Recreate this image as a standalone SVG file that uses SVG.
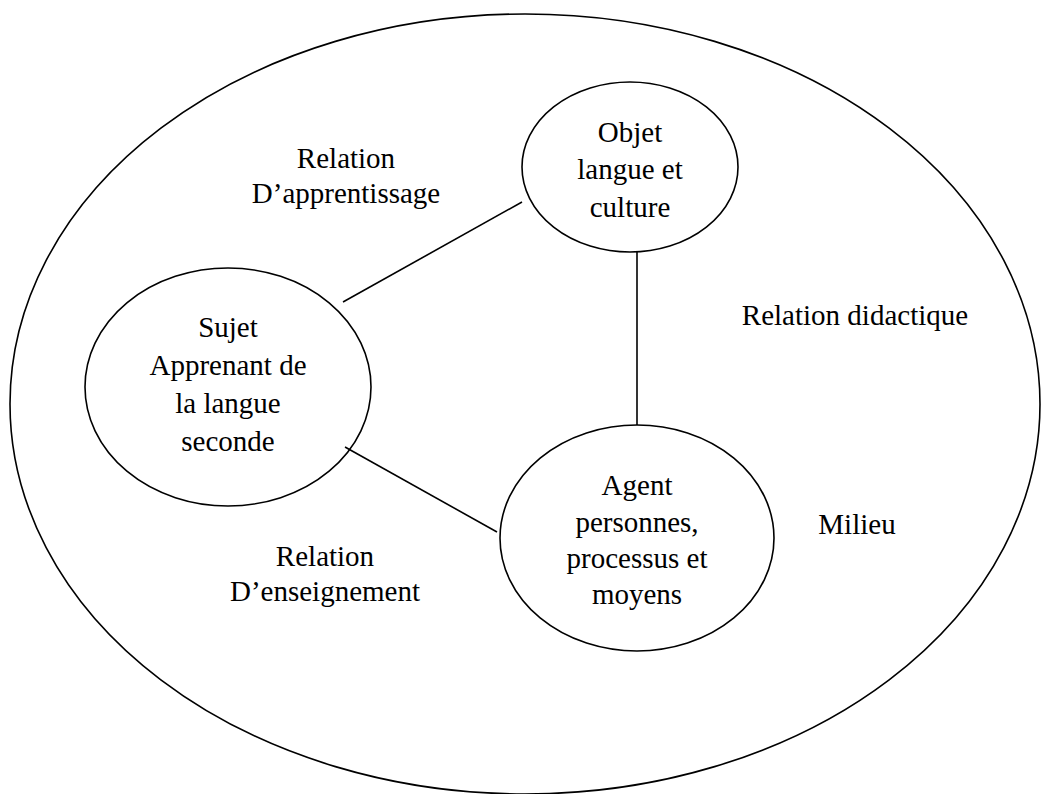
<svg xmlns="http://www.w3.org/2000/svg" width="1041" height="794" viewBox="0 0 1041 794">
<style>
.shape{fill:none;stroke:#000;stroke-width:1.6}
.conn{stroke:#000;stroke-width:1.6}
text{font-family:"Liberation Serif","Times New Roman",serif;font-size:29px;fill:#000;text-anchor:middle}
</style>
<rect width="1041" height="794" fill="#fff"/>
<g id="milieu">
<ellipse class="shape" cx="525" cy="404" rx="515" ry="390"/>
<text x="857" y="534">Milieu</text>
</g>
<g id="connectors">
<line class="conn" x1="343" y1="302" x2="522" y2="202"/>
<line class="conn" x1="637" y1="252" x2="637" y2="425"/>
<line class="conn" x1="345" y1="447" x2="497" y2="532"/>
</g>
<g id="objet">
<ellipse class="shape" cx="630" cy="167" rx="108" ry="85"/>
<text x="630" y="142">Objet</text>
<text x="630" y="179">langue et</text>
<text x="630" y="217">culture</text>
</g>
<g id="sujet">
<ellipse class="shape" cx="228" cy="387" rx="143" ry="119"/>
<text x="228" y="337">Sujet</text>
<text x="228" y="375">Apprenant de</text>
<text x="228" y="413">la langue</text>
<text x="228" y="451">seconde</text>
</g>
<g id="agent">
<ellipse class="shape" cx="637" cy="538" rx="137" ry="113"/>
<text x="637" y="495">Agent</text>
<text x="637" y="532">personnes,</text>
<text x="637" y="568">processus et</text>
<text x="637" y="604">moyens</text>
</g>
<g id="labels">
<text x="346" y="168">Relation</text>
<text x="346" y="203">D’apprentissage</text>
<text x="855" y="325">Relation didactique</text>
<text x="325" y="566">Relation</text>
<text x="325" y="601">D’enseignement</text>
</g>
</svg>
